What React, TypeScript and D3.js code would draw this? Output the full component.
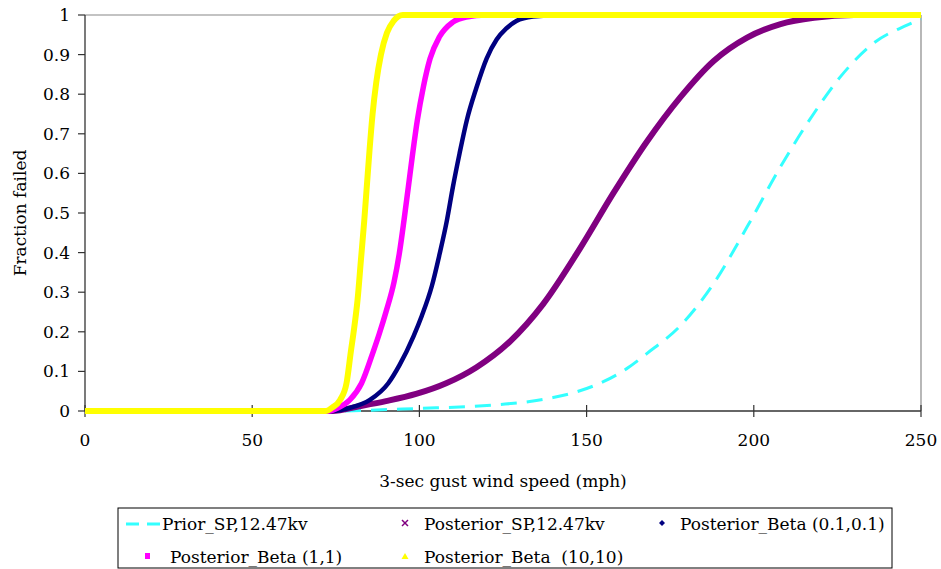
import React from "react";
import * as d3 from "d3";

const xTicks = [0, 50, 100, 150, 200, 250];
const yTicks = [0, 0.1, 0.2, 0.3, 0.4, 0.5, 0.6, 0.7, 0.8, 0.9, 1];
const yTickLabels = ["0", "0.1", "0.2", "0.3", "0.4", "0.5", "0.6", "0.7", "0.8", "0.9", "1"];

const priorX = [0, 75, 85, 95, 105, 115, 125, 133, 140, 148, 155, 162, 168, 178, 188, 198, 208, 218, 226, 236, 246, 250];
const priorY = [0, 0, 0.002, 0.005, 0.008, 0.011, 0.017, 0.024, 0.034, 0.051, 0.074, 0.107, 0.145, 0.215, 0.322, 0.465, 0.617, 0.752, 0.845, 0.93, 0.975, 0.99];

const postSPX = [0, 74, 82, 90, 99, 108, 117, 127, 137, 148, 158, 168, 178, 188, 198, 208, 218, 230, 250];
const postSPY = [0, 0, 0.012, 0.025, 0.043, 0.07, 0.11, 0.175, 0.27, 0.41, 0.55, 0.68, 0.792, 0.884, 0.943, 0.977, 0.993, 1, 1];

const beta01X = [0, 74, 79.2, 85.2, 90.7, 94, 98.2, 100.7, 103.7, 106, 108.2, 110, 112, 114.2, 117, 120.1, 123.1, 126, 129, 134, 142, 250];
const beta01Y = [0, 0, 0.008, 0.028, 0.07, 0.115, 0.188, 0.24, 0.315, 0.395, 0.48, 0.565, 0.65, 0.735, 0.815, 0.89, 0.938, 0.966, 0.985, 0.996, 1, 1];

const beta1X = [0, 73, 75.7, 79.2, 82.7, 86.2, 88, 90, 92.4, 94, 95.4, 96.7, 98, 99.4, 101.2, 103.2, 106, 110, 114, 120, 250];
const beta1Y = [0, 0, 0.008, 0.028, 0.07, 0.15, 0.195, 0.25, 0.325, 0.398, 0.482, 0.566, 0.651, 0.735, 0.819, 0.89, 0.945, 0.982, 0.995, 1, 1];

const beta10X = [0, 72, 73.8, 76.3, 78.2, 79.5, 80.5, 81.5, 82.5, 83.5, 84.3, 85.1, 86, 87.1, 88.5, 90.3, 92.3, 95, 250];
const beta10Y = [0, 0, 0.008, 0.028, 0.07, 0.15, 0.21, 0.28, 0.38, 0.48, 0.57, 0.66, 0.75, 0.83, 0.9, 0.955, 0.985, 1, 1];

const FONT = '"DejaVu Serif", serif';

export default function App() {
  const x = d3.scaleLinear().domain([0, 250]).range([85, 921]);
  const y = d3.scaleLinear().domain([0, 1]).range([411, 15]);
  const line = d3
    .line<[number, number]>()
    .x((d) => x(d[0]))
    .y((d) => y(d[1]))
    .curve(d3.curveMonotoneX);
  const zip = (xs: number[], ys: number[]) => xs.map((v, i) => [v, ys[i]] as [number, number]);

  const series = [
    { xs: priorX, ys: priorY, color: "#33FFFF", width: 3, dash: "16,10" },
    { xs: postSPX, ys: postSPY, color: "#800080", width: 6, dash: undefined },
    { xs: beta01X, ys: beta01Y, color: "#000080", width: 4.5, dash: undefined },
    { xs: beta1X, ys: beta1Y, color: "#FF00FF", width: 5.5, dash: undefined },
    { xs: beta10X, ys: beta10Y, color: "#FFFF00", width: 6, dash: undefined },
  ];

  const txt = { fontFamily: FONT, fontSize: "17px", fill: "#000" } as React.CSSProperties;

  return (
    <svg width={941} height={569} style={{ position: "absolute", left: 0, top: 0, background: "#fff" }}>
      <rect width={941} height={569} fill="#fff" />
      <line x1={85} x2={921} y1={15} y2={15} stroke="#888" strokeWidth={1.2} />
      <line x1={921} x2={921} y1={15} y2={411} stroke="#888" strokeWidth={1.2} />
      <line x1={85} x2={85} y1={15} y2={411} stroke="#333" strokeWidth={1.3} />
      {yTicks.map((t, i) => (
        <g key={"yt" + i}>
          <line x1={78} x2={85} y1={y(t)} y2={y(t)} stroke="#333" strokeWidth={1.2} />
          <text x={70} y={y(t) + 6} textAnchor="end" style={txt}>
            {yTickLabels[i]}
          </text>
        </g>
      ))}
      <line x1={85} x2={921} y1={411} y2={411} stroke="#333" strokeWidth={1.3} />
      {xTicks.map((t, i) => (
        <g key={"xt" + i}>
          <line x1={x(t)} x2={x(t)} y1={405} y2={417} stroke="#333" strokeWidth={1.2} />
          <text x={x(t)} y={446} textAnchor="middle" style={txt}>
            {t}
          </text>
        </g>
      ))}
      {series.map((s, i) => (
        <path
          key={"s" + i}
          d={line(zip(s.xs, s.ys)) || ""}
          fill="none"
          stroke={s.color}
          strokeWidth={s.width}
          strokeDasharray={s.dash}
          strokeLinejoin="round"
        />
      ))}
      <text x={503} y={487} textAnchor="middle" style={txt}>
        3-sec gust wind speed (mph)
      </text>
      <text transform="translate(26,213) rotate(-90)" textAnchor="middle" style={txt}>
        Fraction failed
      </text>
      <rect x={118} y={508} width={774} height={60} fill="#fff" stroke="#000" strokeWidth={1} />
      <line x1={126} x2={161} y1={524} y2={524} stroke="#33FFFF" strokeWidth={3} strokeDasharray="13,8" />
      <text x={162} y={530} style={txt}>Prior_SP,12.47kv</text>
      <g stroke="#800080" strokeWidth={1.5}>
        <line x1={402} x2={408} y1={520} y2={526} />
        <line x1={408} x2={402} y1={520} y2={526} />
      </g>
      <text x={424} y={530} style={txt}>Posterior_SP,12.47kv</text>
      <path d="M662,520 L665,523 L662,526 L659,523 Z" fill="#000080" />
      <text x={680} y={530} style={txt}>Posterior_Beta (0.1,0.1)</text>
      <rect x={145} y={553} width={5} height={6} fill="#FF00FF" />
      <text x={170} y={563} style={txt}>Posterior_Beta (1,1)</text>
      <path d="M405,553 L408.5,559 L401.5,559 Z" fill="#FFFF00" />
      <text x={424} y={563} style={{ ...txt, whiteSpace: "pre" }}>
        {"Posterior_Beta  (10,10)"}
      </text>
    </svg>
  );
}
